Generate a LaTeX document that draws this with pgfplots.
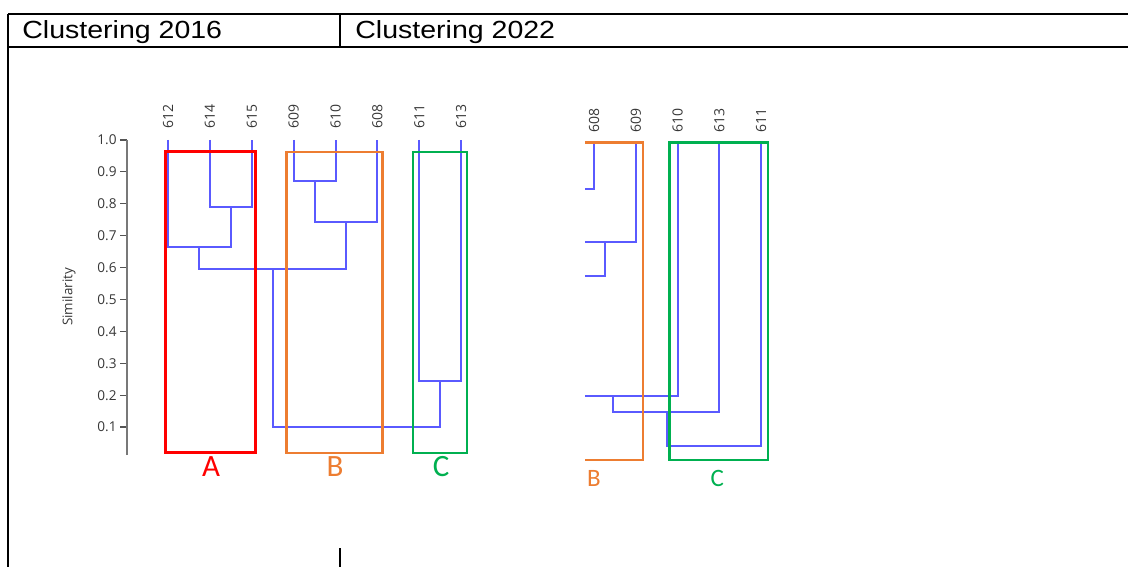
\documentclass[border=0pt]{standalone}
\usepackage{fontspec}
\usepackage{graphicx}
\usepackage{pgfplots}
\pgfplotsset{compat=1.18}
\setmainfont{Open Sans}
\newfontfamily\arialfont{Liberation Sans}
\newfontfamily\calfont{Carlito}

\definecolor{dendro}{RGB}{90,90,255}
\definecolor{clA}{RGB}{255,0,0}
\definecolor{clB}{RGB}{237,125,49}
\definecolor{clC}{RGB}{0,176,80}
\definecolor{axgray}{RGB}{120,120,120}
\definecolor{txtgray}{RGB}{55,55,55}

\begin{document}
\begin{tikzpicture}[x=0.5pt,y=0.5pt]
\useasboundingbox (0,0) rectangle (1128,-567);
% table frame
\draw[line width=0.65pt] (8,-14) -- (1128,-14) (8,-47) -- (1128,-47)
  (8,-14) -- (8,-567) (340,-14) -- (340,-47) (340,-548) -- (340,-567);
\node[anchor=base west, inner sep=0pt, font=\arialfont\fontsize{12.4}{14}\selectfont]
  at (22,-38.5) {\scalebox{1.15}[1]{Clustering 2016}};
\node[anchor=base west, inner sep=0pt, font=\arialfont\fontsize{12.4}{14}\selectfont]
  at (355,-38.5) {\scalebox{1.15}[1]{Clustering 2022}};

% 2016 dendrogram
\begin{axis}[
  at={(63.5pt,-227.5pt)}, anchor=south west,
  scale only axis, width=188pt, height=157.5pt,
  xmin=-0.98, xmax=8, ymin=0.0125, ymax=1,
  clip=false,
  axis y line*=left, axis x line=none,
  y axis line style={axgray, line width=1.3pt},
  tick align=outside, major tick length=3.5pt,
  ytick={0.1,0.2,0.3,0.4,0.5,0.6,0.7,0.8,0.9,1.0},
  ytick style={axgray!70!black, line width=0.6pt},
  yticklabel style={font=\fontsize{6.8}{7}\selectfont, text=txtgray, inner xsep=1.5pt,
    /pgf/number format/.cd, fixed, fixed zerofill, precision=1, assume math mode=true},
]
% leaves: 612 614 615 609 610 608 611 613 at x = 0..7
\addplot[dendro, line width=1pt] coordinates {(1,1) (1,0.79) (2,0.79) (2,1)};
\addplot[dendro, line width=1pt] coordinates {(0,1) (0,0.666) (1.5,0.666) (1.5,0.79)};
\addplot[dendro, line width=1pt] coordinates {(3,1) (3,0.871) (4,0.871) (4,1)};
\addplot[dendro, line width=1pt] coordinates {(3.5,0.871) (3.5,0.742) (5,0.742) (5,1)};
\addplot[dendro, line width=1pt] coordinates {(0.75,0.666) (0.75,0.595) (4.25,0.595) (4.25,0.742)};
\addplot[dendro, line width=1pt] coordinates {(6,1) (6,0.245) (7,0.245) (7,1)};
\addplot[dendro, line width=1pt] coordinates {(2.5,0.595) (2.5,0.10) (6.5,0.10) (6.5,0.245)};
% cluster boxes
\addplot[clA, line width=1.5pt] coordinates {(-0.055,0.019) (2.10,0.019) (2.10,0.963) (-0.055,0.963)} -- cycle;
\addplot[clB, line width=1.2pt] coordinates {(2.826,0.019) (5.12,0.019) (5.12,0.963) (2.826,0.963)} -- cycle;
\addplot[clC, line width=1.2pt] coordinates {(5.846,0.019) (7.136,0.019) (7.136,0.963) (5.846,0.963)} -- cycle;
\node[clA, font=\calfont\fontsize{15.5}{16}\selectfont] at (axis cs:1.03,-0.025) {A};
\node[clB, font=\calfont\fontsize{15.5}{16}\selectfont] at (axis cs:3.99,-0.025) {B};
\node[clC, font=\calfont\fontsize{15.5}{16}\selectfont] at (axis cs:6.52,-0.025) {C};
\node[rotate=90, text=txtgray, font=\fontsize{6.7}{7}\selectfont] at (axis cs:-2.365,0.508) {Similarity};
\node[rotate=90, anchor=west, inner sep=0pt, text=txtgray, font=\fontsize{7}{7}\selectfont] at (axis cs:0,1.034) {612};
\node[rotate=90, anchor=west, inner sep=0pt, text=txtgray, font=\fontsize{7}{7}\selectfont] at (axis cs:1,1.034) {614};
\node[rotate=90, anchor=west, inner sep=0pt, text=txtgray, font=\fontsize{7}{7}\selectfont] at (axis cs:2,1.034) {615};
\node[rotate=90, anchor=west, inner sep=0pt, text=txtgray, font=\fontsize{7}{7}\selectfont] at (axis cs:3,1.034) {609};
\node[rotate=90, anchor=west, inner sep=0pt, text=txtgray, font=\fontsize{7}{7}\selectfont] at (axis cs:4,1.034) {610};
\node[rotate=90, anchor=west, inner sep=0pt, text=txtgray, font=\fontsize{7}{7}\selectfont] at (axis cs:5,1.034) {608};
\node[rotate=90, anchor=west, inner sep=0pt, text=txtgray, font=\fontsize{7}{7}\selectfont] at (axis cs:6,1.034) {611};
\node[rotate=90, anchor=west, inner sep=0pt, text=txtgray, font=\fontsize{7}{7}\selectfont] at (axis cs:7,1.034) {613};
\end{axis}

% 2022 dendrogram (cropped on the left)
\begin{axis}[
  at={(292.5pt,-234.2pt)}, anchor=south west,
  scale only axis, width=108.9pt, height=165.9pt,
  xmin=-0.216, xmax=5, ymin=-0.02, ymax=1.02,
  hide axis, clip mode=individual,
]
% leaves: 608 609 610 613 611 at x = 0..4
\addplot[dendro, line width=1pt] coordinates {(0,1) (0,0.855) (-1,0.855)};
\addplot[dendro, line width=1pt] coordinates {(1,1) (1,0.689) (-1,0.689)};
\addplot[dendro, line width=1pt] coordinates {(0.263,0.689) (0.263,0.584) (-1,0.584)};
\addplot[dendro, line width=1pt] coordinates {(2,1) (2,0.207) (-1,0.207)};
\addplot[dendro, line width=1pt] coordinates {(0.448,0.207) (0.448,0.158) (3,0.158) (3,1)};
\addplot[dendro, line width=1pt] coordinates {(1.741,0.158) (1.741,0.050) (4,0.050) (4,1)};
\addplot[clB, line width=1.2pt] coordinates {(-1,0.006) (1.174,0.006) (1.174,1.001) (-1,1.001)};
\addplot[clC, line width=1.2pt] coordinates {(1.804,0.006) (4.16,0.006) (4.16,1.001) (1.804,1.001)} -- cycle;
\node[clB, font=\calfont\fontsize{12.5}{13}\selectfont] at (axis cs:0,-0.05) {B};
\node[clC, font=\calfont\fontsize{12.5}{13}\selectfont] at (axis cs:2.95,-0.05) {C};
\node[rotate=90, anchor=west, inner sep=0pt, text=txtgray, font=\fontsize{7}{7}\selectfont] at (axis cs:0,1.031) {608};
\node[rotate=90, anchor=west, inner sep=0pt, text=txtgray, font=\fontsize{7}{7}\selectfont] at (axis cs:1,1.031) {609};
\node[rotate=90, anchor=west, inner sep=0pt, text=txtgray, font=\fontsize{7}{7}\selectfont] at (axis cs:2,1.031) {610};
\node[rotate=90, anchor=west, inner sep=0pt, text=txtgray, font=\fontsize{7}{7}\selectfont] at (axis cs:3,1.031) {613};
\node[rotate=90, anchor=west, inner sep=0pt, text=txtgray, font=\fontsize{7}{7}\selectfont] at (axis cs:4,1.031) {611};
\end{axis}
\end{tikzpicture}
\end{document}
